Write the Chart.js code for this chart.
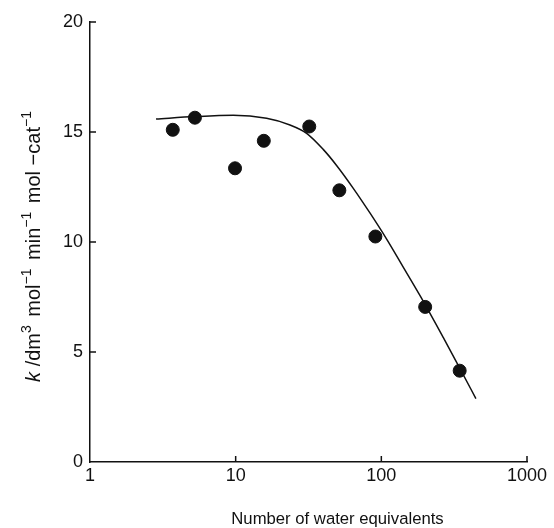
<!DOCTYPE html>
<html>
<head>
<meta charset="utf-8">
<script src="https://cdn.jsdelivr.net/npm/chart.js@4.4.1/dist/chart.umd.min.js"></script>
<style>
  html, body { margin: 0; padding: 0; background: #fff; }
  #wrap { width: 554px; height: 528px; position: relative; }
</style>
</head>
<body>
<div id="wrap"><canvas id="rateChart"></canvas></div>
<script>
// measured points (number of water equivalents vs rate constant)
const waterEq = [3.7, 5.25, 9.9, 15.6, 32, 51.5, 91, 200, 345];
const rateK = [15.1, 15.65, 13.35, 14.6, 15.25, 12.35, 10.25, 7.05, 4.15];

// fitted curve
const curveX = [2.84, 5.26, 9.63, 16.3, 23.6, 30.7, 39.9, 49.3, 64.2, 83.5, 109, 141, 184, 266, 346, 446];
const curveY = [15.59, 15.7, 15.76, 15.62, 15.32, 14.94, 14.21, 13.48, 12.44, 11.32, 10.12, 8.87, 7.57, 5.66, 4.26, 2.88];

const xTicks = [1, 10, 100, 1000];
const yTicks = [0, 5, 10, 15, 20];

const xTitle = 'Number of water equivalents';
// y title pieces: [text, style]  style: 'i' italic, 's' superscript, '' normal
const yTitleParts = [['k', 'i'], [' /dm', ''], ['3', 's'], [' mol', ''], ['\u22121', 's'],
  [' min', ''], ['\u22121', 's'], [' mol \u2212cat', ''], ['\u22121', 's']];

const ink = '#111';
const fontFam = '"Liberation Sans", Arial, Helvetica, sans-serif';

// tick marks point into the plot
const inwardTicks = {
  id: 'inwardTicks',
  afterDraw(chart) {
    const { ctx, chartArea, scales } = chart;
    ctx.save();
    ctx.strokeStyle = ink;
    ctx.lineWidth = 1.5;
    ctx.beginPath();
    xTicks.slice(1).forEach(v => {
      const px = scales.x.getPixelForValue(v);
      ctx.moveTo(px, chartArea.bottom);
      ctx.lineTo(px, chartArea.bottom - 6);
    });
    yTicks.slice(1).forEach(v => {
      const py = scales.y.getPixelForValue(v);
      ctx.moveTo(chartArea.left, py);
      ctx.lineTo(chartArea.left + 6, py);
    });
    ctx.stroke();
    ctx.restore();
  }
};

// axis titles: y rotated with italic k and superscripts, x shifted right as in the figure
const titlePlugin = {
  id: 'axisTitles',
  afterDraw(chart) {
    const { ctx, chartArea } = chart;
    const base = 20, sup = 14, gap = 3;
    const fontOf = s => (s === 'i' ? 'italic ' : '') + (s === 's' ? sup : base) + 'px ' + fontFam;
    let total = 0;
    yTitleParts.forEach(([t, s]) => { ctx.font = fontOf(s); total += ctx.measureText(t).width + (s === 's' ? gap : 0); });
    ctx.save();
    ctx.fillStyle = ink;
    ctx.translate(40, 245);
    ctx.rotate(-Math.PI / 2);
    ctx.textBaseline = 'alphabetic';
    let x = -total / 2;
    yTitleParts.forEach(([t, s]) => {
      ctx.font = fontOf(s);
      ctx.fillText(t, x, s === 's' ? -9 : 0);
      x += ctx.measureText(t).width + (s === 's' ? gap : 0);
    });
    ctx.restore();

    ctx.save();
    ctx.fillStyle = ink;
    ctx.font = '16.7px ' + fontFam;
    ctx.textAlign = 'center';
    ctx.textBaseline = 'alphabetic';
    ctx.fillText(xTitle, (chartArea.left + chartArea.right) / 2 + 29, 524);
    ctx.restore();
  }
};

new Chart(document.getElementById('rateChart'), {
  type: 'scatter',
  data: {
    datasets: [
      {
        label: 'fit',
        data: curveX.map((x, i) => ({ x: x, y: curveY[i] })),
        showLine: true,
        borderColor: ink,
        borderWidth: 1.5,
        pointRadius: 0,
        cubicInterpolationMode: 'monotone',
        fill: false
      },
      {
        label: 'measured',
        data: waterEq.map((x, i) => ({ x: x, y: rateK[i] })),
        backgroundColor: ink,
        borderColor: ink,
        pointRadius: 6.5,
        pointHoverRadius: 6.5
      }
    ]
  },
  options: {
    responsive: true,
    maintainAspectRatio: false,
    animation: false,
    layout: { padding: { top: 22, right: 27, left: 0, bottom: 0 } },
    plugins: {
      legend: { display: false },
      tooltip: { enabled: false }
    },
    scales: {
      x: {
        type: 'logarithmic',
        min: 1,
        max: 1000,
        afterBuildTicks: s => { s.ticks = xTicks.map(v => ({ value: v })); },
        afterFit: s => { s.height = 66; },
        grid: { display: false, drawTicks: false },
        border: { display: true, color: ink, width: 1.5 },
        ticks: {
          color: ink,
          padding: 3,
          maxRotation: 0,
          font: { family: fontFam, size: 18 },
          callback: v => String(v)
        }
      },
      y: {
        min: 0,
        max: 20,
        afterBuildTicks: s => { s.ticks = yTicks.map(v => ({ value: v })); },
        afterFit: s => { s.width = 90; },
        grid: { display: false, drawTicks: false },
        border: { display: true, color: ink, width: 1.5 },
        ticks: {
          color: ink,
          padding: 7,
          font: { family: fontFam, size: 18 }
        }
      }
    }
  },
  plugins: [inwardTicks, titlePlugin]
});
</script>
</body>
</html>
